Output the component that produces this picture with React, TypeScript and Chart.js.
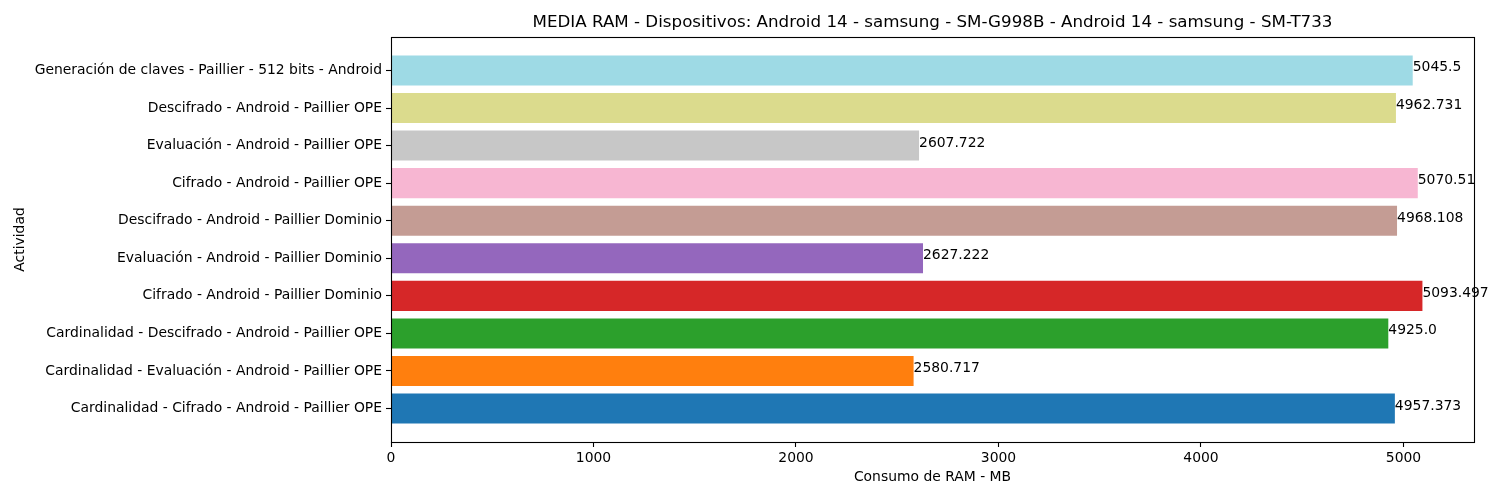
import React, { useEffect, useRef } from "react";
import { Chart, registerables } from "chart.js";

Chart.register(...registerables);

const categories: string[] = [
  "Cardinalidad - Cifrado - Android - Paillier OPE",
  "Cardinalidad - Evaluación - Android - Paillier OPE",
  "Cardinalidad - Descifrado - Android - Paillier OPE",
  "Cifrado - Android - Paillier Dominio",
  "Evaluación - Android - Paillier Dominio",
  "Descifrado - Android - Paillier Dominio",
  "Cifrado - Android - Paillier OPE",
  "Evaluación - Android - Paillier OPE",
  "Descifrado - Android - Paillier OPE",
  "Generación de claves - Paillier - 512 bits - Android",
];

const ramValues: number[] = [
  4957.373, 2580.717, 4925.0, 5093.497, 2627.222, 4968.108, 5070.51, 2607.722, 4962.731, 5045.5,
];

const barColors: string[] = [
  "#1f77b4", "#ff7f0e", "#2ca02c", "#d62728", "#9467bd",
  "#c49c94", "#f7b6d2", "#c7c7c7", "#dbdb8d", "#9edae5",
];

const xTicks: number[] = [0, 1000, 2000, 3000, 4000, 5000];

const chartTitle = "MEDIA RAM - Dispositivos: Android 14 - samsung - SM-G998B - Android 14 - samsung - SM-T733";
const xTitle = "Consumo de RAM - MB";
const yTitle = "Actividad";

const FONT = "'DejaVu Sans', sans-serif";

const fmt = (v: number) => (Number.isInteger(v) ? v.toFixed(1) : String(v));

export default function App() {
  const ref = useRef<HTMLCanvasElement | null>(null);

  useEffect(() => {
    document.body.style.margin = "0";
    const canvas = ref.current;
    if (!canvas) return;

    const maxVal = Math.max(...ramValues);

    const framePlugin = {
      id: "frameAndLabels",
      afterDatasetsDraw(chart: any) {
        const { ctx, chartArea, scales } = chart;
        ctx.save();
        // value labels
        ctx.fillStyle = "#000";
        ctx.font = `13.9px ${FONT}`;
        ctx.textAlign = "left";
        ctx.textBaseline = "alphabetic";
        ramValues.forEach((v, i) => {
          const x = scales.x.getPixelForValue(v);
          const y = scales.y.getPixelForValue(i);
          ctx.fillText(fmt(v), x, y + 1);
        });
        // spines
        ctx.strokeStyle = "#000";
        ctx.lineWidth = 1.1;
        ctx.strokeRect(
          Math.round(chartArea.left) + 0.5,
          Math.round(chartArea.top) + 0.5,
          Math.round(chartArea.right - chartArea.left),
          Math.round(chartArea.bottom - chartArea.top)
        );
        // title centered over plot area
        ctx.font = `16.7px ${FONT}`;
        ctx.textAlign = "center";
        ctx.textBaseline = "middle";
        ctx.fillText(chartTitle, (chartArea.left + chartArea.right) / 2, 23);
        ctx.restore();
      },
    };

    const chart = new Chart(canvas, {
      type: "bar",
      data: {
        labels: categories,
        datasets: [
          {
            label: "RAM",
            data: ramValues.map((v, i) => ({ x: v, y: i })),
            backgroundColor: barColors,
            borderWidth: 0,
            barPercentage: 0.8,
            categoryPercentage: 1.0,
          },
        ],
      },
      options: {
        indexAxis: "y",
        animation: false,
        responsive: false,
        maintainAspectRatio: false,
        layout: { padding: { top: 37, right: 26, left: 0, bottom: 0 } },
        plugins: {
          legend: { display: false },
          tooltip: { enabled: false },
          title: { display: false },
        },
        scales: {
          x: {
            type: "linear",
            min: 0,
            max: maxVal * 1.05,
            offset: false,
            afterFit: (s: any) => {
              s.height = 58;
            },
            afterBuildTicks: (s: any) => {
              s.ticks = xTicks.map((v) => ({ value: v }));
            },
            ticks: {
              color: "#000",
              padding: 3,
              font: { family: FONT, size: 13.9 },
              callback: (v: any) => String(v),
              maxRotation: 0,
            },
            grid: {
              display: true,
              offset: false,
              drawOnChartArea: false,
              drawTicks: true,
              tickLength: 5,
              tickColor: "#000",
              tickWidth: 1.1,
            },
            border: { display: false },
            title: {
              display: true,
              text: xTitle,
              color: "#000",
              font: { family: FONT, size: 13.9 },
              padding: { top: 0, bottom: 14 },
            },
          },
          y: {
            type: "linear",
            min: -0.89,
            max: 9.89,
            offset: false,
            afterFit: (s: any) => {
              s.width = 391;
            },
            afterBuildTicks: (s: any) => {
              s.ticks = categories.map((_, i) => ({ value: i }));
            },
            ticks: {
              color: "#000",
              padding: 4,
              font: { family: FONT, size: 13.9 },
              callback: (v: any) => categories[v as number] ?? "",
              autoSkip: false,
            },
            grid: {
              display: true,
              offset: false,
              drawOnChartArea: false,
              drawTicks: true,
              tickLength: 5,
              tickColor: "#000",
              tickWidth: 1.1,
            },
            border: { display: false },
            title: {
              display: true,
              text: yTitle,
              color: "#000",
              font: { family: FONT, size: 13.9 },
              padding: { top: 12, bottom: 0 },
            },
          },
        },
      },
      plugins: [framePlugin],
    } as any);

    return () => chart.destroy();
  }, []);

  return (
    <div style={{ position: "absolute", left: 0, top: 0, width: 1500, height: 500, background: "#fff" }}>
      <canvas ref={ref} width={1500} height={500} style={{ width: 1500, height: 500 }} />
    </div>
  );
}
